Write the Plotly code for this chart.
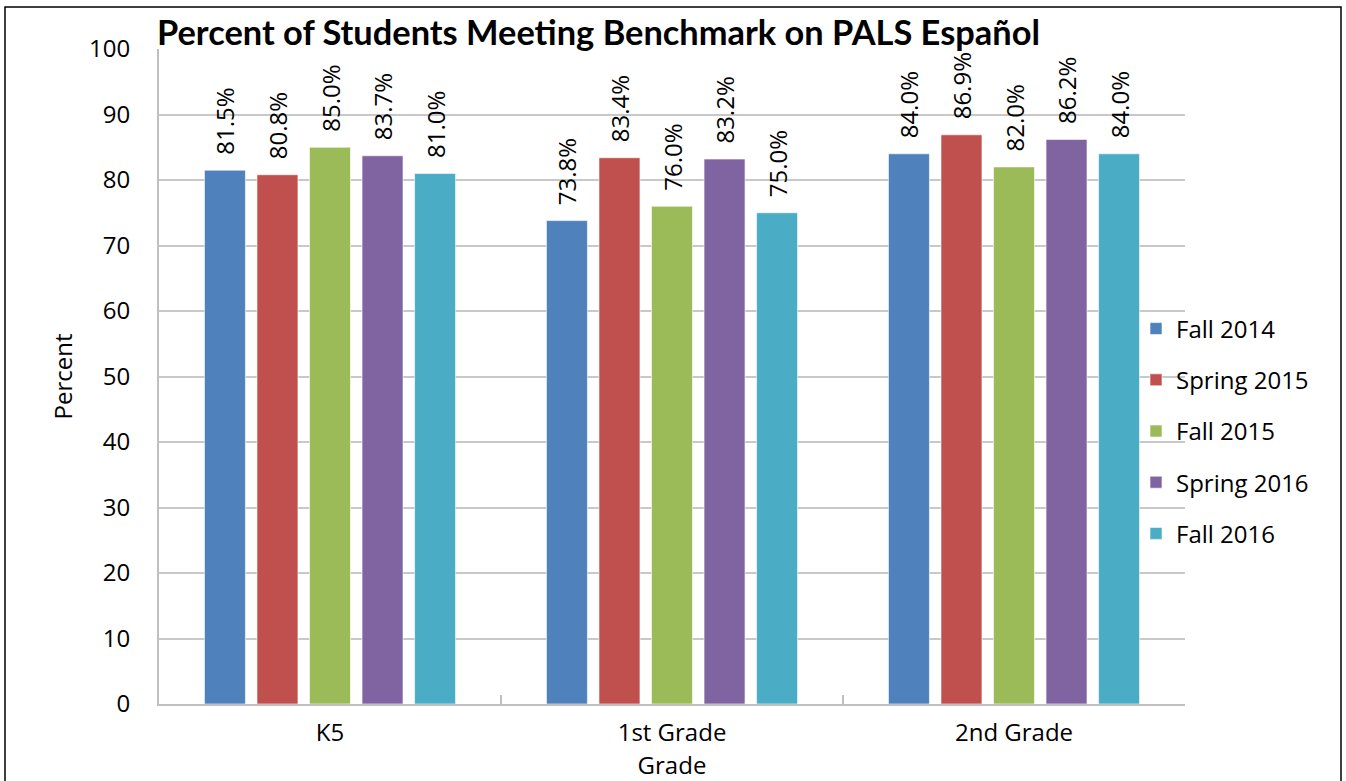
import plotly.graph_objects as go

categories = ["K5", "1st Grade", "2nd Grade"]
series_names = ["Fall 2014", "Spring 2015", "Fall 2015", "Spring 2016", "Fall 2016"]
fall_2014 = [81.5, 73.8, 84.0]
spring_2015 = [80.8, 83.4, 86.9]
fall_2015 = [85.0, 76.0, 82.0]
spring_2016 = [83.7, 83.2, 86.2]
fall_2016 = [81.0, 75.0, 84.0]
series_values = [fall_2014, spring_2015, fall_2015, spring_2016, fall_2016]
colors = ["#4F81BD", "#C0504D", "#9BBB59", "#8064A2", "#4BACC6"]
y_ticks = [0, 10, 20, 30, 40, 50, 60, 70, 80, 90, 100]

W, H = 1346, 781
L, R, T, B = 159, 1185, 49, 704
FS = 24

fig = go.Figure()
for name, vals, c in zip(series_names, series_values, colors):
    fig.add_trace(go.Bar(
        x=categories, y=vals, name=name, legendgroup=name,
        marker=dict(color=c, line=dict(color="rgba(255,255,255,0.6)", width=1)),
        text=["\u00a0\u00a0" + f"{v:.1f}%" for v in vals], textposition="outside",
        textangle=-90, constraintext="none",
        textfont=dict(family="Open Sans", size=FS, color="black"),
        cliponaxis=False,
    ))

pw, ph = R - L, B - T
def px(x):
    return (x - L) / pw
def py(y):
    return (B - y) / ph

fig.update_layout(
    width=W, height=H,
    margin=dict(l=L, r=W - R, t=T, b=H - B, autoexpand=False),
    paper_bgcolor="white", plot_bgcolor="white",
    barmode="group", bargap=0.232, bargroupgap=0.22,
    font=dict(family="Open Sans", size=FS, color="black"),
    title=dict(text="<b>Percent of Students Meeting Benchmark on PALS Español</b>",
               font=dict(family="Lato", size=34.4, color="black"),
               x=157 / W, xref="container", xanchor="left",
               y=1 - 33 / H, yref="container", yanchor="middle"),
    legend=dict(x=px(1136), y=py(431), xanchor="left", yanchor="middle",
                bgcolor="rgba(0,0,0,0)", font=dict(size=FS, family="Open Sans"),
                tracegroupgap=17, itemwidth=30),
    xaxis=dict(showgrid=False, showline=True, linecolor="#BFBFBF", linewidth=2,
               ticks="inside", tickson="boundaries", ticklen=9, tickcolor="#BFBFBF",
               tickwidth=2, ticklabelstandoff=6, automargin=False,
               title=dict(text="Grade", standoff=2, font=dict(size=FS))),
    yaxis=dict(range=[0, 100], tickvals=y_ticks, showgrid=True, gridcolor="#C8C8C8",
               gridwidth=2, showline=True, linecolor="#BFBFBF", linewidth=2,
               zeroline=False, ticks="", ticklabelstandoff=22, automargin=False,
               title=dict(text="Percent", standoff=10, font=dict(size=FS))),
    shapes=[dict(type="rect", xref="paper", yref="paper",
                 x0=px(5), x1=px(1341), y0=py(800), y1=py(7),
                 line=dict(color="black", width=1.5), fillcolor="rgba(0,0,0,0)",
                 layer="above")],
)

fig.write_html("out.html", config={"displayModeBar": False},
               post_script="document.body.style.margin='0px';")
